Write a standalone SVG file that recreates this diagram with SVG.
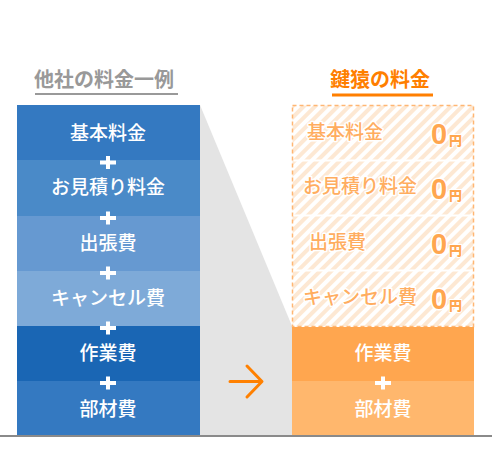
<svg xmlns="http://www.w3.org/2000/svg" width="492" height="460" viewBox="0 0 492 460">
<style>
text{font-family:"Noto Sans CJK JP","Liberation Sans",sans-serif;}
.lbl{font-size:19px;font-weight:500;fill:#fff;text-anchor:middle;}
.rl{font-size:19px;font-weight:500;fill:#ffad60;stroke:#fff;stroke-width:3;paint-order:stroke;stroke-linejoin:round;}
.zero{font-family:"Liberation Sans",sans-serif;font-size:29px;font-weight:bold;fill:#ffa64f;stroke:#fff;stroke-width:3;paint-order:stroke;stroke-linejoin:round;}
.yen{font-size:13px;font-weight:900;fill:#ffa64f;stroke:#fff;stroke-width:2;paint-order:stroke;}
.plus{stroke:#fff;stroke-width:4;fill:none;}
</style>
<defs>
<pattern id="hatch" width="8" height="8" patternUnits="userSpaceOnUse" patternTransform="rotate(45)">
<rect width="8" height="8" fill="#fff"/>
<rect width="4" height="8" fill="#fde8d3"/>
</pattern>
</defs>
<rect width="492" height="460" fill="#fff"/>
<polygon points="200,105 292,326 292,435 200,435" fill="#e4e4e4"/>
<g id="title-left">
<text x="104" y="87" font-size="20" font-weight="bold" fill="#999" text-anchor="middle">他社の料金一例</text>
<rect x="35" y="93" width="143" height="2" fill="#999"/>
</g>
<g id="title-right">
<text x="380" y="87" font-size="20" font-weight="bold" fill="#ff7f00" text-anchor="middle">鍵猿の料金</text>
<rect x="332" y="93.5" width="101" height="3" fill="#ff7f00"/>
</g>
<g id="left-1"><rect x="17" y="105" width="183" height="55" fill="#3479c1"/><text class="lbl" x="108" y="140">基本料金</text></g>
<g id="left-2"><rect x="17" y="160" width="183" height="56" fill="#4a8ac8"/><text class="lbl" x="108" y="194">お見積り料金</text></g>
<g id="left-3"><rect x="17" y="216" width="183" height="55" fill="#6699d1"/><text class="lbl" x="108" y="250">出張費</text></g>
<g id="left-4"><rect x="17" y="271" width="183" height="55" fill="#7eaad8"/><text class="lbl" x="108" y="305">キャンセル費</text></g>
<g id="left-5"><rect x="17" y="326" width="183" height="55" fill="#1a66b4"/><text class="lbl" x="108" y="360">作業費</text></g>
<g id="left-6"><rect x="17" y="381" width="183" height="54" fill="#3479c1"/><text class="lbl" x="108" y="416">部材費</text></g>
<g id="pluses" class="plus">
<path d="M100 162.5H116M108 156V169"/>
<path d="M100 218H116M108 211.5V224.5"/>
<path d="M100 273H116M108 266.5V279.5"/>
<path d="M100 328H116M108 321.5V334.5"/>
<path d="M100 383H116M108 376.5V389.5"/>
</g>
<g id="right-free">
<rect x="292.5" y="105.5" width="181" height="221" fill="url(#hatch)" stroke="#ffb673" stroke-width="1.5" stroke-dasharray="4 3"/>
<rect x="293.5" y="159.5" width="179" height="2" fill="#fff"/>
<rect x="293.5" y="214.5" width="179" height="2" fill="#fff"/>
<rect x="293.5" y="269.5" width="179" height="2" fill="#fff"/>
</g>
<g id="right-1"><text class="rl" x="307" y="139">基本料金</text><text class="zero" x="431" y="144">0</text><text class="yen" x="449" y="145">円</text></g>
<g id="right-2"><text class="rl" x="303" y="193">お見積り料金</text><text class="zero" x="431" y="199">0</text><text class="yen" x="449" y="200">円</text></g>
<g id="right-3"><text class="rl" x="309" y="249">出張費</text><text class="zero" x="431" y="254">0</text><text class="yen" x="449" y="255">円</text></g>
<g id="right-4"><text class="rl" x="303" y="304">キャンセル費</text><text class="zero" x="431" y="309">0</text><text class="yen" x="449" y="310">円</text></g>
<g id="right-5"><rect x="292" y="327" width="182" height="54" fill="#ffa64f"/><text class="lbl" x="383" y="360">作業費</text></g>
<g id="right-6"><rect x="292" y="381" width="182" height="54" fill="#ffb76d"/><text class="lbl" x="383" y="416">部材費</text></g>
<path d="M375 383H391M383 376.5V389.5" class="plus"/>
<g id="connectors">
<path d="M230 381.5H261M247 366L262 381.5L247 397" fill="none" stroke="#ff8000" stroke-width="3" stroke-linecap="round" stroke-linejoin="round"/>
</g>
<rect x="0" y="435" width="492" height="2" fill="#8a8a8a"/>
</svg>
